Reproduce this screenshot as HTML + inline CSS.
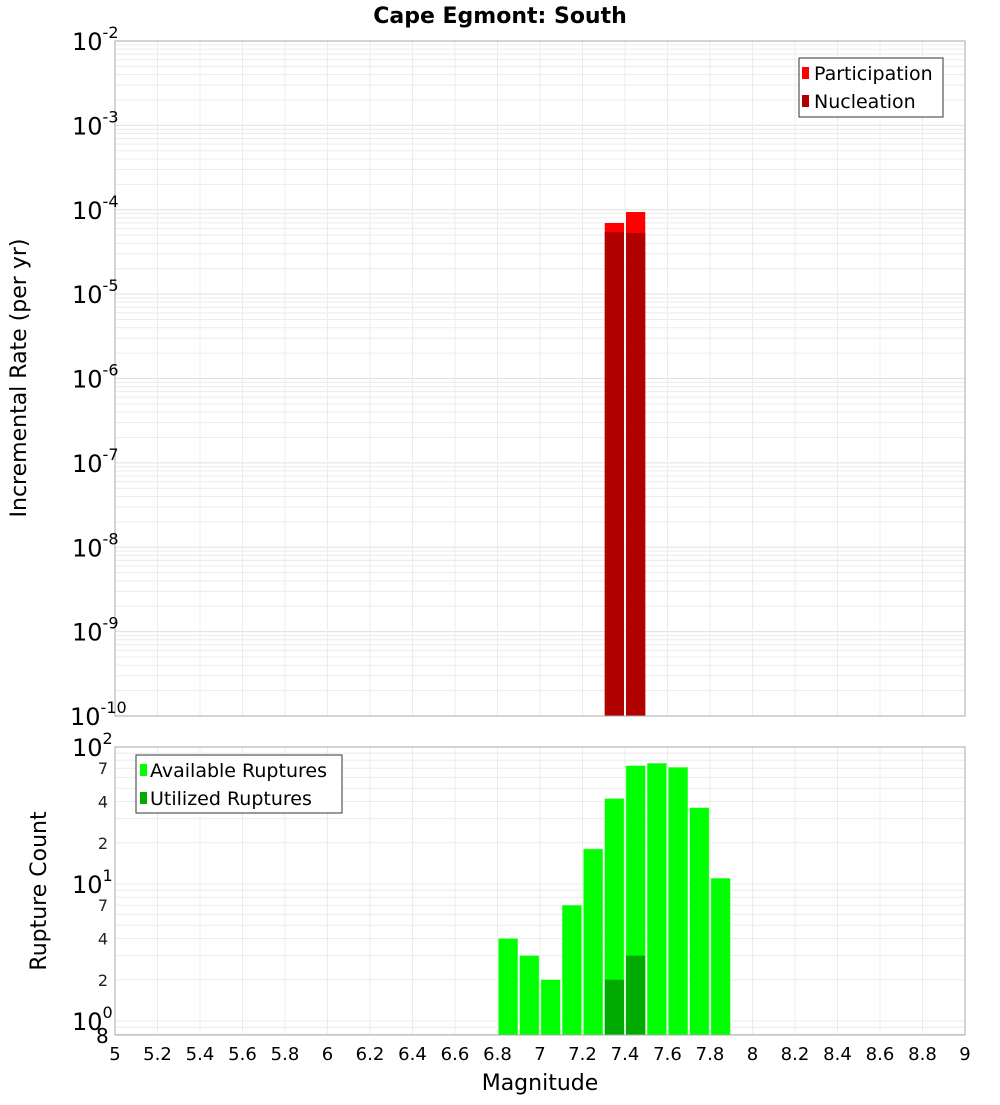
<!DOCTYPE html>
<html><head><meta charset="utf-8"><style>
body{margin:0;background:#fff;font-family:"Liberation Sans","DejaVu Sans",sans-serif}
svg text{font-family:"DejaVu Sans","Liberation Sans",sans-serif}
</style></head><body>
<svg id="c" width="1000" height="1100" xmlns="http://www.w3.org/2000/svg">
<text x="500" y="23" text-anchor="middle" font-size="22" font-weight="bold">Cape Egmont: South</text>
<g id="top"></g>
<g id="bot"></g>
<text transform="translate(26,378) rotate(-90)" text-anchor="middle" font-size="22">Incremental Rate (per yr)</text>
<text transform="translate(46,891) rotate(-90)" text-anchor="middle" font-size="22">Rupture Count</text>
<text x="540" y="1090" text-anchor="middle" font-size="22">Magnitude</text>
</svg>
<script>
const binStarts=[6.8,6.9,7.0,7.1,7.2,7.3,7.4,7.5,7.6,7.7,7.8];
const available=[4,3,2,7,18,42,73,76,71,36,11];
const utilizedBins=[7.3,7.4];
const utilized=[2,3];
const rateBins=[7.3,7.4];
const participation=[6.97e-5,9.4e-5];
const nucleation=[5.45e-5,5.3e-5];
const xTicks=[5,5.2,5.4,5.6,5.8,6,6.2,6.4,6.6,6.8,7,7.2,7.4,7.6,7.8,8,8.2,8.4,8.6,8.8,9];
const topExps=[-2,-3,-4,-5,-6,-7,-8,-9,-10];

const NS="http://www.w3.org/2000/svg";
const X0=115,X1=965;
const x=m=>X0+(m-5)/4*(X1-X0);
const TY0=41,TY1=716;
const ty=v=>TY0+(-2-Math.log10(v))/8*(TY1-TY0);
const BY0=747,BY1=1035,DEC=137;
const by=v=>BY0+(2-Math.log10(v))*DEC;
function mk(p,t,a){const e=document.createElementNS(NS,t);for(const k in a)e.setAttribute(k,a[k]);p.appendChild(e);return e;}
const topG=document.getElementById('top'),botG=document.getElementById('bot');

for(let e=-10;e<-2;e++)for(let k=1;k<10;k++){const yy=ty(k*Math.pow(10,e));if(yy<TY0)continue;
 const l=mk(topG,'line',{x1:X0,x2:X1,y1:yy,y2:yy,stroke:k==1?'#e0e0e0':'#ececec','stroke-width':1});
 }
for(const t of xTicks){const l=mk(topG,'line',{x1:x(t),x2:x(t),y1:TY0,y2:TY1,stroke:'#ececec'});
 }
rateBins.forEach((b,i)=>{
 const w=x(b+0.1)-x(b);
 const r=mk(topG,'rect',{x:x(b)+1,y:ty(participation[i]),width:w-2,height:TY1-ty(participation[i]),fill:'#ff0000'});
 
 const n=mk(topG,'rect',{x:x(b)+1,y:ty(nucleation[i]),width:w-2,height:TY1-ty(nucleation[i]),fill:'#b00000'});
 
});
const tf=mk(topG,'rect',{x:X0,y:TY0,width:X1-X0,height:TY1-TY0,fill:'none',stroke:'#aaa'});

topExps.forEach(e=>{const t=mk(topG,'text',{x:e==-10?70:72,y:ty(Math.pow(10,e))+9,'font-size':24});
 
 t.textContent='10';const s=mk(t,'tspan',{dy:-12,'font-size':16});s.textContent=String(e);});
const lg=mk(topG,'g',{});
mk(lg,'rect',{x:799,y:58,width:144,height:59,fill:'#fff',stroke:'#333'});
[['Participation','#ff0000',73],['Nucleation','#b00000',101]].forEach(([n,c,yy])=>{
 const g=mk(lg,'g',{});
 mk(g,'rect',{x:802,y:yy-6,width:7,height:12,fill:c});
 const t=mk(g,'text',{x:814,y:yy+7,'font-size':19});t.textContent=n;});

for(let e=-1;e<2;e++)for(let k=1;k<10;k++){const v=k*Math.pow(10,e);const yy=by(v);if(yy>BY1||yy<BY0)continue;
 const l=mk(botG,'line',{x1:X0,x2:X1,y1:yy,y2:yy,stroke:'#ececec'});
 }
for(const t of xTicks){const l=mk(botG,'line',{x1:x(t),x2:x(t),y1:BY0,y2:BY1,stroke:'#ececec'});
 }
binStarts.forEach((b,i)=>{const w=x(b+0.1)-x(b);
 const r=mk(botG,'rect',{x:x(b)+1,y:by(available[i]),width:w-2,height:BY1-by(available[i]),fill:'#00ff00',stroke:'#7fff7f','stroke-width':0.5});
 });
utilizedBins.forEach((b,i)=>{const w=x(b+0.1)-x(b);
 const r=mk(botG,'rect',{x:x(b)+1,y:by(utilized[i]),width:w-2,height:BY1-by(utilized[i]),fill:'#00aa00'});
 });
const bf=mk(botG,'rect',{x:X0,y:BY0,width:X1-X0,height:BY1-BY0,fill:'none',stroke:'#aaa'});

[[100,'2'],[10,'1'],[1,'0']].forEach(([v,e])=>{const t=mk(botG,'text',{x:72,y:by(v)+9,'font-size':24});
 
 t.textContent='10';const s=mk(t,'tspan',{dy:-12,'font-size':16});s.textContent=e;});
[70,40,20,7,4,2].forEach(v=>{const t=mk(botG,'text',{x:108,y:by(v)+6,'font-size':16,'text-anchor':'end',fill:'#222'});
 
 t.textContent=String(v).charAt(0);});
const t8=mk(botG,'text',{x:96,y:1043,'font-size':20});t8.textContent='8';

xTicks.forEach(v=>{const t=mk(botG,'text',{x:x(v),y:1060,'font-size':18,'text-anchor':'middle'});
 
 t.textContent=String(v);});
const bl=mk(botG,'g',{});
mk(bl,'rect',{x:136,y:755,width:206,height:58,fill:'#fff',stroke:'#333'});
[['Available Ruptures','#00ff00',770],['Utilized Ruptures','#00aa00',798]].forEach(([n,c,yy])=>{
 const g=mk(bl,'g',{});
 mk(g,'rect',{x:140,y:yy-6,width:7,height:12,fill:c});
 const t=mk(g,'text',{x:150,y:yy+7,'font-size':19});t.textContent=n;});
</script>
</body></html>
